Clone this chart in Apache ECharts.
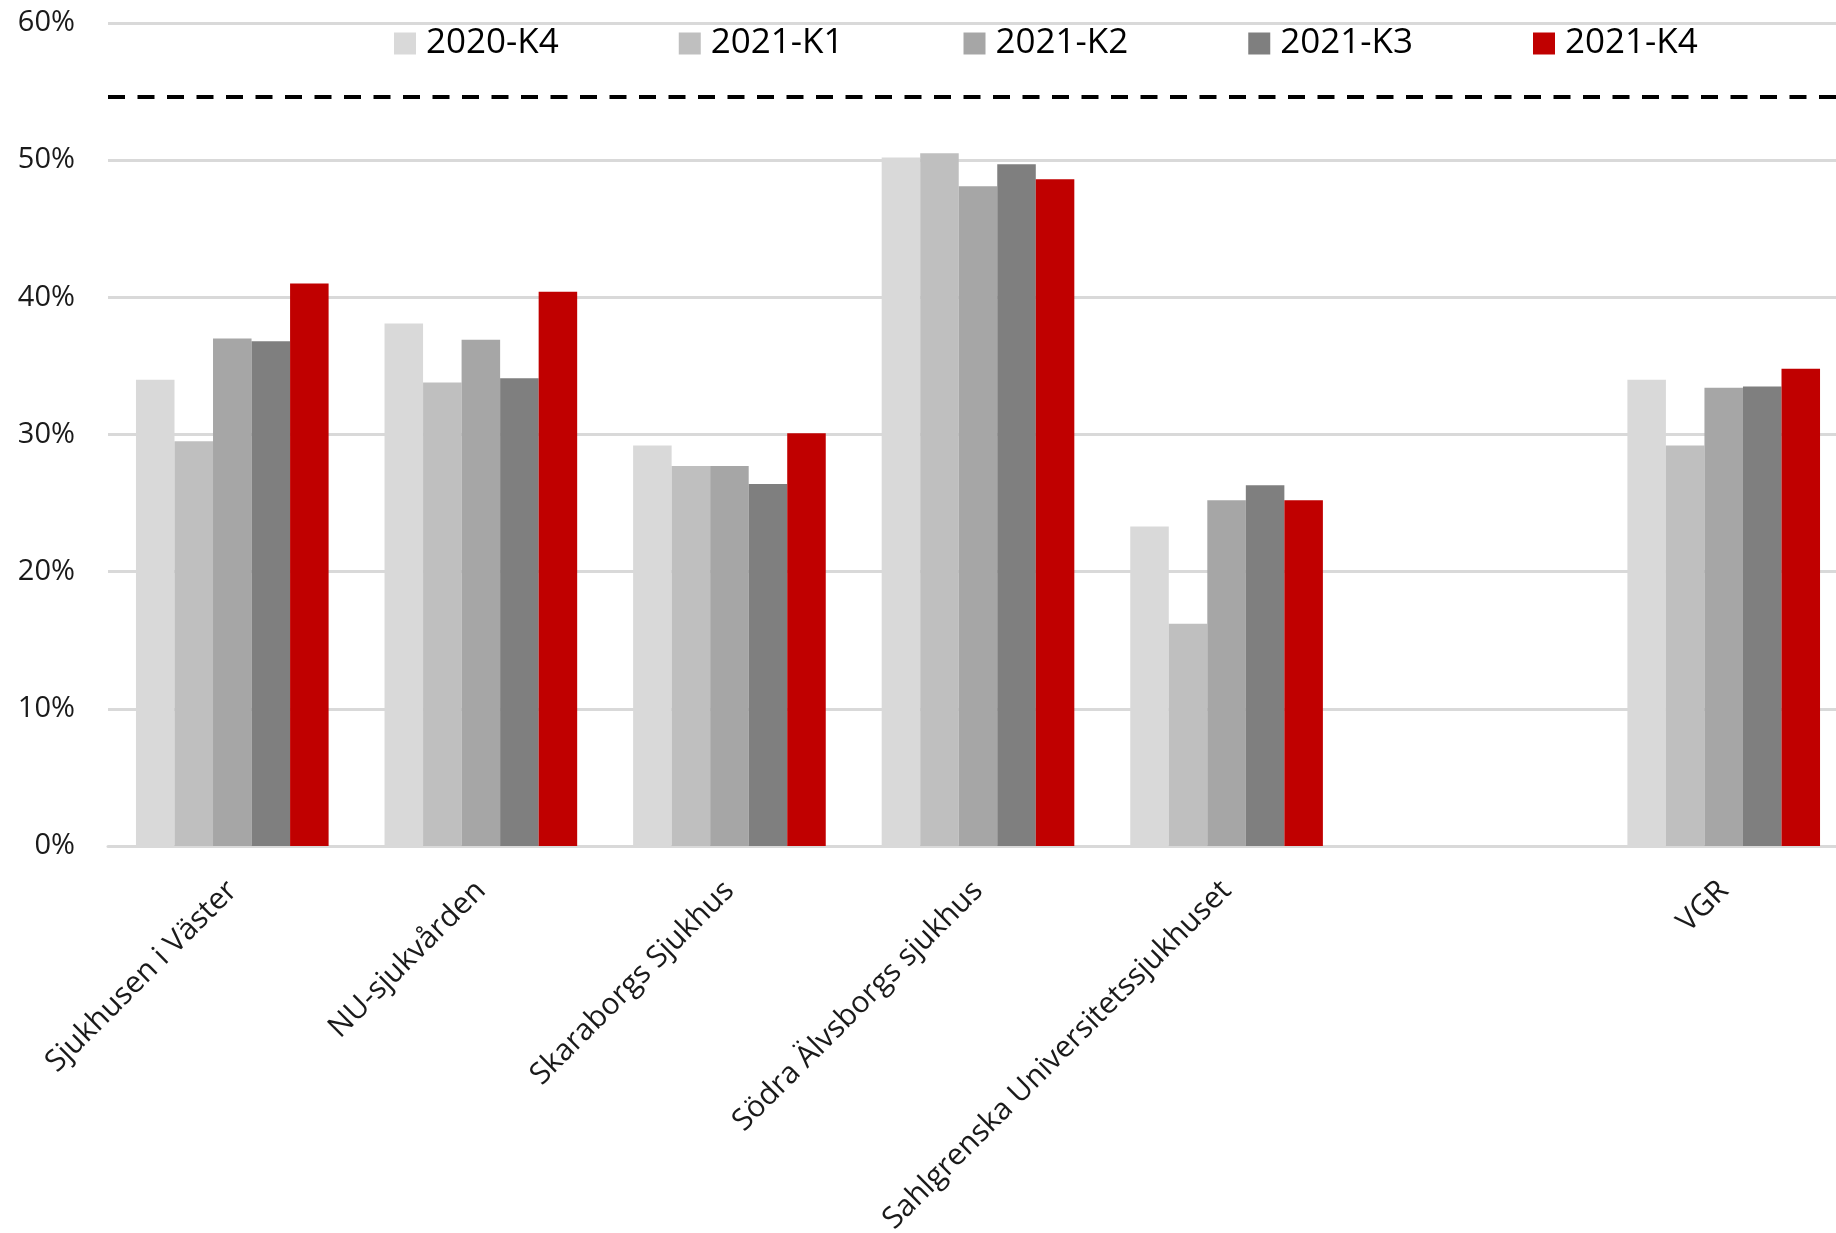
<!DOCTYPE html>
<html>
<head>
<meta charset="utf-8">
<script src="https://cdn.jsdelivr.net/npm/echarts@6/dist/echarts.min.js"></script>
<style>
html,body{margin:0;padding:0;background:#fff;overflow:hidden;}
#chart{width:1836px;height:1233px;}
</style>
</head>
<body>
<div id="chart"></div>
<script>
var categories = ['Sjukhusen i Väster', 'NU-sjukvården', 'Skaraborgs Sjukhus', 'Södra Älvsborgs sjukhus', 'Sahlgrenska Universitetssjukhuset', '', 'VGR'];
var seriesNames = ['2020-K4', '2021-K1', '2021-K2', '2021-K3', '2021-K4'];
var s2020K4 = [34.0, 38.1, 29.2, 50.2, 23.3, null, 34.0];
var s2021K1 = [29.5, 33.8, 27.7, 50.5, 16.2, null, 29.2];
var s2021K2 = [37.0, 36.9, 27.7, 48.1, 25.2, null, 33.4];
var s2021K3 = [36.8, 34.1, 26.4, 49.7, 26.3, null, 33.5];
var s2021K4 = [41.0, 40.4, 30.1, 48.6, 25.2, null, 34.8];
var targetLine = 54.6;
var yTicks = [0, 10, 20, 30, 40, 50, 60];

var colors = ['#d9d9d9', '#bfbfbf', '#a6a6a6', '#7f7f7f', '#c00000'];
var allData = [s2020K4, s2021K1, s2021K2, s2021K3, s2021K4];
var font = 'Open Sans';

var series = seriesNames.map(function (name, i) {
  var s = {
    name: name,
    type: 'bar',
    data: allData[i],
    barGap: '0%',
    barCategoryGap: '22.5%',
    itemStyle: { color: colors[i] },
    emphasis: { disabled: true }
  };
  if (i === 0) {
    s.markLine = {
      silent: true,
      symbol: 'none',
      label: { show: false },
      lineStyle: { color: '#000', width: 4, type: [17, 12.5] },
      data: [{ yAxis: targetLine }]
    };
  }
  return s;
});

var chart = echarts.init(document.getElementById('chart'));
chart.setOption({
  animation: false,
  backgroundColor: '#fff',
  color: colors,
  legend: {
    top: 21,
    left: 389,
    itemWidth: 22,
    itemHeight: 22,
    itemGap: 120,
    icon: 'rect',
    textStyle: { fontFamily: font, fontSize: 35, color: '#000', padding: [0, 0, 0, 5] },
    data: seriesNames
  },
  grid: { left: 108, right: -12, top: 23, bottom: 387, containLabel: false, outerBoundsMode: 'none' },
  xAxis: {
    type: 'category',
    data: categories,
    axisTick: { show: false },
    axisLine: { lineStyle: { color: '#d9d9d9', width: 3 } },
    axisLabel: {
      interval: 0,
      rotate: 45,
      margin: 40,
      fontFamily: font,
      fontSize: 30,
      color: '#1a1a1a'
    }
  },
  yAxis: {
    type: 'value',
    min: yTicks[0],
    max: yTicks[yTicks.length - 1],
    interval: 10,
    axisLine: { show: false },
    axisTick: { show: false },
    splitLine: { lineStyle: { color: '#d9d9d9', width: 3 } },
    axisLabel: {
      formatter: '{value}%',
      margin: 33,
      fontFamily: font,
      fontSize: 29,
      color: '#1a1a1a'
    }
  },
  series: series
});
</script>
</body>
</html>
